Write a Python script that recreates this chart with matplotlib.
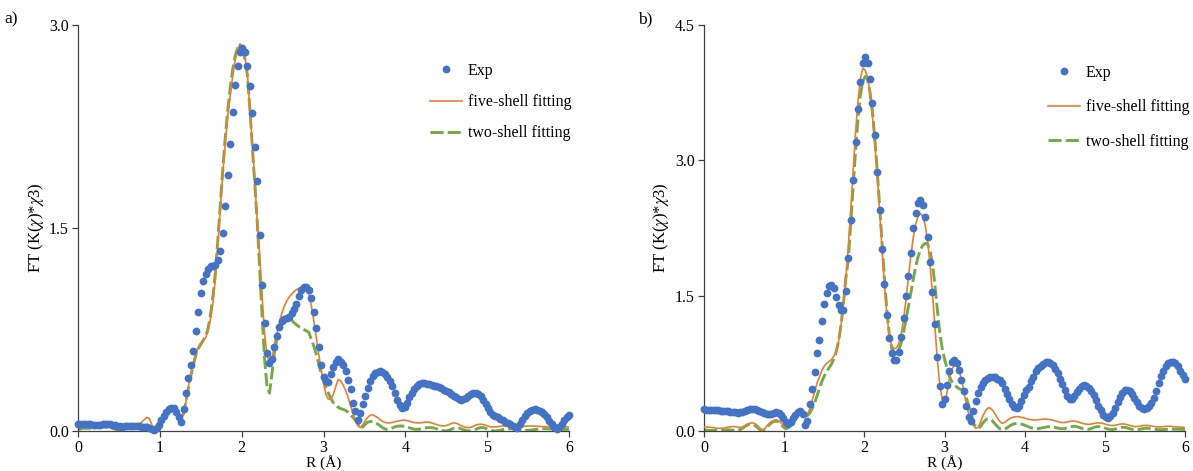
import numpy as np
import matplotlib
matplotlib.use("Agg")
import matplotlib.pyplot as plt

plt.rcParams["font.family"] = ["Liberation Serif", "DejaVu Serif"]
plt.rcParams["mathtext.fontset"] = "stix"

# R grid (Angstrom) shared by all curves
r = np.round(np.arange(201) * 0.03, 2)

# panel a)
exp_a = [
    0.050, 0.052, 0.052, 0.051, 0.050, 0.049, 0.048, 0.047, 0.047, 0.048,
    0.050, 0.052, 0.053, 0.050, 0.046, 0.042, 0.038, 0.035, 0.033, 0.034,
    0.035, 0.036, 0.036, 0.036, 0.035, 0.034, 0.033, 0.032, 0.030, 0.025,
    0.012, 0.005, 0.020, 0.045, 0.080, 0.110, 0.140, 0.160, 0.172, 0.168,
    0.140, 0.100, 0.070, 0.160, 0.280, 0.390, 0.490, 0.590, 0.740, 0.880,
    1.020, 1.110, 1.160, 1.200, 1.220, 1.220, 1.230, 1.260, 1.330, 1.460,
    1.660, 1.890, 2.120, 2.360, 2.560, 2.700, 2.800, 2.830, 2.800, 2.700,
    2.550, 2.350, 2.100, 1.850, 1.450, 1.080, 0.800, 0.580, 0.500, 0.530,
    0.620, 0.700, 0.770, 0.810, 0.825, 0.835, 0.845, 0.870, 0.905, 0.940,
    1.000, 1.045, 1.065, 1.065, 1.040, 0.980, 0.880, 0.760, 0.620, 0.490,
    0.400, 0.370, 0.360, 0.420, 0.470, 0.510, 0.530, 0.510, 0.490, 0.440,
    0.380, 0.310, 0.210, 0.150, 0.080, 0.130, 0.200, 0.260, 0.320, 0.370,
    0.410, 0.425, 0.435, 0.440, 0.435, 0.420, 0.400, 0.370, 0.330, 0.280,
    0.230, 0.190, 0.170, 0.180, 0.210, 0.250, 0.280, 0.310, 0.335, 0.350,
    0.357, 0.355, 0.350, 0.345, 0.340, 0.335, 0.330, 0.322, 0.315, 0.305,
    0.295, 0.285, 0.273, 0.260, 0.248, 0.238, 0.232, 0.235, 0.245, 0.258,
    0.270, 0.280, 0.283, 0.275, 0.255, 0.230, 0.200, 0.170, 0.140, 0.120,
    0.110, 0.100, 0.090, 0.080, 0.070, 0.060, 0.050, 0.040, 0.030, 0.025,
    0.050, 0.080, 0.110, 0.130, 0.145, 0.155, 0.160, 0.158, 0.150, 0.140,
    0.125, 0.100, 0.075, 0.050, 0.030, 0.012, 0.030, 0.055, 0.080, 0.100,
    0.116,
]
fit5_a = [
    0.040, 0.040, 0.038, 0.035, 0.033, 0.030, 0.030, 0.032, 0.035, 0.038,
    0.040, 0.040, 0.038, 0.035, 0.030, 0.025, 0.020, 0.020, 0.022, 0.025,
    0.028, 0.030, 0.032, 0.035, 0.040, 0.050, 0.065, 0.085, 0.100, 0.095,
    0.050, 0.010, 0.020, 0.050, 0.090, 0.120, 0.145, 0.160, 0.165, 0.160,
    0.140, 0.110, 0.100, 0.120, 0.220, 0.330, 0.430, 0.510, 0.570, 0.620,
    0.650, 0.670, 0.690, 0.740, 0.830, 0.950, 1.130, 1.390, 1.660, 1.910,
    2.130, 2.330, 2.480, 2.620, 2.740, 2.820, 2.860, 2.840, 2.760, 2.640,
    2.380, 2.120, 1.860, 1.550, 1.300, 1.000, 0.720, 0.560, 0.500, 0.530,
    0.640, 0.720, 0.800, 0.870, 0.920, 0.960, 0.990, 1.010, 1.030, 1.045,
    1.055, 1.065, 1.070, 1.060, 1.010, 0.930, 0.820, 0.700, 0.570, 0.460,
    0.350, 0.270, 0.235, 0.235, 0.270, 0.330, 0.380, 0.370, 0.340, 0.300,
    0.250, 0.190, 0.130, 0.080, 0.040, 0.025, 0.045, 0.075, 0.100, 0.115,
    0.120, 0.110, 0.100, 0.085, 0.072, 0.064, 0.060, 0.060, 0.064, 0.068,
    0.072, 0.076, 0.079, 0.080, 0.077, 0.072, 0.066, 0.062, 0.060, 0.060,
    0.062, 0.065, 0.066, 0.065, 0.060, 0.054, 0.048, 0.042, 0.038, 0.037,
    0.040, 0.047, 0.055, 0.060, 0.058, 0.050, 0.040, 0.032, 0.027, 0.025,
    0.027, 0.035, 0.043, 0.048, 0.050, 0.048, 0.043, 0.036, 0.031, 0.030,
    0.030, 0.032, 0.035, 0.037, 0.037, 0.036, 0.034, 0.033, 0.032, 0.032,
    0.032, 0.033, 0.035, 0.036, 0.037, 0.037, 0.036, 0.035, 0.034, 0.033,
    0.032, 0.032, 0.031, 0.031, 0.030, 0.030, 0.030, 0.030, 0.030, 0.030,
    0.030,
]
fit2_a = [
    0.010, 0.015, 0.020, 0.020, 0.020, 0.020, 0.020, 0.025, 0.030, 0.030,
    0.030, 0.030, 0.028, 0.025, 0.020, 0.015, 0.010, 0.010, 0.012, 0.015,
    0.020, 0.025, 0.030, 0.035, 0.040, 0.045, 0.050, 0.050, 0.045, 0.035,
    0.020, 0.010, 0.020, 0.045, 0.080, 0.110, 0.135, 0.150, 0.155, 0.150,
    0.130, 0.110, 0.100, 0.130, 0.220, 0.320, 0.410, 0.490, 0.560, 0.610,
    0.640, 0.670, 0.700, 0.760, 0.860, 1.000, 1.180, 1.420, 1.680, 1.940,
    2.170, 2.370, 2.530, 2.670, 2.770, 2.830, 2.840, 2.820, 2.750, 2.630,
    2.380, 2.100, 1.820, 1.550, 1.200, 0.850, 0.530, 0.330, 0.280, 0.420,
    0.580, 0.680, 0.750, 0.800, 0.825, 0.840, 0.835, 0.820, 0.800, 0.785,
    0.770, 0.760, 0.750, 0.740, 0.730, 0.680, 0.630, 0.570, 0.500, 0.430,
    0.370, 0.320, 0.280, 0.240, 0.210, 0.190, 0.175, 0.165, 0.160, 0.152,
    0.140, 0.120, 0.100, 0.080, 0.050, 0.020, 0.030, 0.050, 0.065, 0.070,
    0.068, 0.062, 0.052, 0.040, 0.025, 0.015, 0.012, 0.015, 0.022, 0.030,
    0.035, 0.037, 0.037, 0.035, 0.030, 0.024, 0.018, 0.013, 0.012, 0.014,
    0.017, 0.021, 0.024, 0.025, 0.025, 0.022, 0.017, 0.010, 0.005, 0.002,
    0.000, 0.005, 0.012, 0.020, 0.025, 0.023, 0.017, 0.010, 0.004, 0.001,
    0.000, 0.005, 0.012, 0.020, 0.025, 0.025, 0.020, 0.014, 0.007, 0.002,
    0.000, 0.002, 0.006, 0.010, 0.013, 0.016, 0.017, 0.017, 0.015, 0.012,
    0.010, 0.007, 0.005, 0.005, 0.006, 0.008, 0.010, 0.013, 0.015, 0.017,
    0.017, 0.017, 0.016, 0.015, 0.014, 0.013, 0.012, 0.012, 0.012, 0.012,
    0.012,
]

# panel b)
exp_b = [
    0.240, 0.238, 0.236, 0.234, 0.232, 0.230, 0.228, 0.226, 0.224, 0.222,
    0.220, 0.215, 0.210, 0.206, 0.205, 0.208, 0.215, 0.225, 0.235, 0.243,
    0.248, 0.245, 0.235, 0.222, 0.208, 0.195, 0.185, 0.185, 0.190, 0.198,
    0.210, 0.205, 0.180, 0.140, 0.100, 0.080, 0.100, 0.140, 0.180, 0.215,
    0.225, 0.190, 0.070, 0.110, 0.300, 0.470, 0.650, 0.860, 1.010, 1.220,
    1.410, 1.530, 1.610, 1.620, 1.580, 1.490, 1.400, 1.340, 1.340, 1.550,
    1.920, 2.340, 2.780, 3.200, 3.570, 3.870, 4.080, 4.150, 4.080, 3.900,
    3.630, 3.280, 2.870, 2.450, 2.020, 1.630, 1.290, 1.030, 0.870, 0.790,
    0.790, 0.880, 1.040, 1.250, 1.500, 1.720, 1.970, 2.250, 2.420, 2.530,
    2.560, 2.500, 2.370, 2.150, 1.870, 1.540, 1.190, 0.820, 0.500, 0.300,
    0.350, 0.510, 0.660, 0.770, 0.790, 0.750, 0.680, 0.570, 0.440, 0.280,
    0.160, 0.110, 0.220, 0.330, 0.420, 0.490, 0.530, 0.560, 0.585, 0.595,
    0.600, 0.595, 0.580, 0.560, 0.530, 0.470, 0.410, 0.350, 0.300, 0.265,
    0.250, 0.280, 0.330, 0.400, 0.450, 0.490, 0.550, 0.600, 0.660, 0.700,
    0.720, 0.745, 0.760, 0.765, 0.755, 0.730, 0.690, 0.640, 0.580, 0.520,
    0.450, 0.390, 0.360, 0.360, 0.390, 0.430, 0.470, 0.495, 0.505, 0.500,
    0.480, 0.440, 0.400, 0.340, 0.280, 0.230, 0.180, 0.150, 0.145, 0.165,
    0.200, 0.260, 0.320, 0.380, 0.420, 0.450, 0.455, 0.440, 0.410, 0.370,
    0.320, 0.280, 0.250, 0.240, 0.250, 0.280, 0.310, 0.370, 0.440, 0.530,
    0.610, 0.670, 0.720, 0.750, 0.770, 0.770, 0.750, 0.720, 0.670, 0.620,
    0.580,
]
fit5_b = [
    0.045, 0.045, 0.043, 0.040, 0.036, 0.032, 0.030, 0.030, 0.032, 0.036,
    0.042, 0.047, 0.050, 0.048, 0.042, 0.040, 0.045, 0.060, 0.075, 0.085,
    0.090, 0.085, 0.065, 0.040, 0.012, 0.020, 0.050, 0.080, 0.105, 0.120,
    0.125, 0.115, 0.090, 0.060, 0.040, 0.050, 0.090, 0.140, 0.185, 0.210,
    0.200, 0.180, 0.160, 0.180, 0.250, 0.340, 0.440, 0.530, 0.600, 0.670,
    0.720, 0.750, 0.770, 0.790, 0.830, 0.880, 1.000, 1.180, 1.400, 1.700,
    2.040, 2.450, 2.880, 3.300, 3.650, 3.900, 4.020, 4.000, 3.920, 3.750,
    3.500, 3.200, 2.850, 2.450, 2.030, 1.630, 1.300, 1.070, 0.950, 0.910,
    0.920, 0.970, 1.070, 1.240, 1.460, 1.700, 1.940, 2.140, 2.290, 2.380,
    2.410, 2.380, 2.280, 2.100, 1.840, 1.520, 1.160, 0.800, 0.520, 0.360,
    0.310, 0.420, 0.580, 0.680, 0.720, 0.720, 0.680, 0.580, 0.450, 0.310,
    0.200, 0.120, 0.060, 0.030, 0.040, 0.100, 0.170, 0.220, 0.255, 0.255,
    0.230, 0.190, 0.145, 0.105, 0.085, 0.095, 0.115, 0.135, 0.148, 0.156,
    0.160, 0.158, 0.152, 0.145, 0.137, 0.130, 0.125, 0.122, 0.122, 0.125,
    0.128, 0.131, 0.132, 0.130, 0.126, 0.120, 0.112, 0.104, 0.097, 0.093,
    0.095, 0.100, 0.106, 0.110, 0.110, 0.105, 0.097, 0.088, 0.080, 0.075,
    0.074, 0.077, 0.083, 0.088, 0.090, 0.088, 0.083, 0.075, 0.067, 0.062,
    0.060, 0.063, 0.070, 0.076, 0.078, 0.076, 0.070, 0.062, 0.055, 0.050,
    0.050, 0.053, 0.058, 0.062, 0.062, 0.060, 0.055, 0.050, 0.046, 0.045,
    0.046, 0.049, 0.052, 0.053, 0.052, 0.050, 0.047, 0.044, 0.042, 0.041,
    0.040,
]
fit2_b = [
    0.010, 0.010, 0.008, 0.006, 0.005, 0.005, 0.006, 0.008, 0.010, 0.012,
    0.013, 0.012, 0.010, 0.008, 0.008, 0.015, 0.030, 0.050, 0.065, 0.075,
    0.075, 0.065, 0.045, 0.020, 0.005, 0.015, 0.040, 0.065, 0.090, 0.105,
    0.110, 0.100, 0.075, 0.045, 0.025, 0.035, 0.070, 0.120, 0.170, 0.200,
    0.200, 0.190, 0.170, 0.170, 0.200, 0.250, 0.310, 0.390, 0.470, 0.550,
    0.610, 0.660, 0.700, 0.740, 0.800, 0.880, 1.000, 1.180, 1.420, 1.700,
    1.900, 2.300, 2.700, 3.100, 3.450, 3.720, 3.870, 3.930, 3.900, 3.760,
    3.550, 3.250, 2.900, 2.500, 2.100, 1.700, 1.350, 1.080, 0.920, 0.860,
    0.860, 0.900, 0.980, 1.100, 1.240, 1.380, 1.530, 1.680, 1.820, 1.930,
    2.010, 2.060, 2.080, 2.070, 2.000, 1.850, 1.620, 1.350, 1.100, 0.920,
    0.800, 0.700, 0.610, 0.550, 0.510, 0.490, 0.470, 0.460, 0.440, 0.380,
    0.280, 0.170, 0.090, 0.040, 0.030, 0.050, 0.090, 0.120, 0.135, 0.130,
    0.110, 0.080, 0.050, 0.025, 0.015, 0.020, 0.035, 0.055, 0.070, 0.080,
    0.085, 0.083, 0.077, 0.068, 0.057, 0.045, 0.035, 0.028, 0.025, 0.027,
    0.032, 0.038, 0.043, 0.047, 0.048, 0.046, 0.040, 0.033, 0.027, 0.025,
    0.028, 0.035, 0.043, 0.050, 0.052, 0.048, 0.040, 0.030, 0.022, 0.018,
    0.020, 0.028, 0.038, 0.046, 0.050, 0.047, 0.040, 0.030, 0.022, 0.017,
    0.017, 0.022, 0.030, 0.038, 0.042, 0.040, 0.034, 0.026, 0.020, 0.016,
    0.016, 0.019, 0.024, 0.029, 0.031, 0.030, 0.026, 0.021, 0.017, 0.015,
    0.015, 0.017, 0.020, 0.022, 0.022, 0.021, 0.019, 0.018, 0.018, 0.018,
    0.018,
]

x_ticks = [0, 1, 2, 3, 4, 5, 6]
y_ticks_a = [0.0, 1.5, 3.0]
y_ticks_b = [0.0, 1.5, 3.0, 4.5]
labels = ["Exp", "five-shell fitting", "two-shell fitting"]

BLUE = "#4472C4"
ORANGE = "#ED7D31"
GREEN = "#70AD47"
W, H = 1193, 471
FS = 11.5


def draw_panel(ax, exp, fit5, fit2, yticks, legend_xy, spacing):
    ax.plot(r, fit2, color=GREEN, lw=2.1, dashes=(4.5, 1.4), zorder=2, label=labels[2])
    ax.plot(r, fit5, color=ORANGE, lw=1.2, zorder=3, label=labels[1])
    ax.plot(r, exp, "o", ms=5.6, color=BLUE, mec="none", zorder=4,
            clip_on=False, label=labels[0])
    ax.set_xlim(0, 6)
    ax.set_ylim(yticks[0], yticks[-1])
    ax.set_xticks(x_ticks)
    ax.set_yticks(yticks)
    ax.set_yticklabels([f"{v:.1f}" for v in yticks])
    for side in ("top", "right"):
        ax.spines[side].set_visible(False)
    for side in ("left", "bottom"):
        ax.spines[side].set_color("#404040")
        ax.spines[side].set_linewidth(0.9)
    ax.tick_params(direction="out", length=4, width=0.9, color="#404040",
                   labelsize=FS, pad=2.5)
    ax.set_xlabel("R (Å)", fontsize=FS - 0.5, labelpad=-0.5)
    ax.set_ylabel(r"FT (K($\chi$)*$\chi$3)", fontsize=FS + 0.5)
    h, l = ax.get_legend_handles_labels()
    order = [2, 1, 0]
    ax.legend([h[i] for i in order], [l[i] for i in order], frameon=False,
              loc="upper left", bbox_to_anchor=(legend_xy[0] / W, 1 - legend_xy[1] / H),
              bbox_transform=ax.figure.transFigure, borderpad=0, borderaxespad=0,
              handlelength=2.0, handletextpad=0.35, labelspacing=spacing, fontsize=FS)


fig = plt.figure(figsize=(W / 100, H / 100), dpi=100)
ax_a = fig.add_axes([78 / W, 1 - 431 / H, 491 / W, 406 / H])
ax_b = fig.add_axes([704 / W, 1 - 431 / H, 481 / W, 406 / H])

draw_panel(ax_a, exp_a, fit5_a, fit2_a, y_ticks_a, (430, 63), 0.95)
draw_panel(ax_b, exp_b, fit5_b, fit2_b, y_ticks_b, (1048, 65), 1.15)
ax_a.yaxis.set_label_coords(-0.065, 0.5)
ax_b.yaxis.set_label_coords(-0.069, 0.5)

fig.text(4 / W, 1 - 23 / H, "a)", fontsize=FS + 1)
fig.text(638 / W, 1 - 23 / H, "b)", fontsize=FS + 1)

fig.savefig("out.png", dpi=100)
